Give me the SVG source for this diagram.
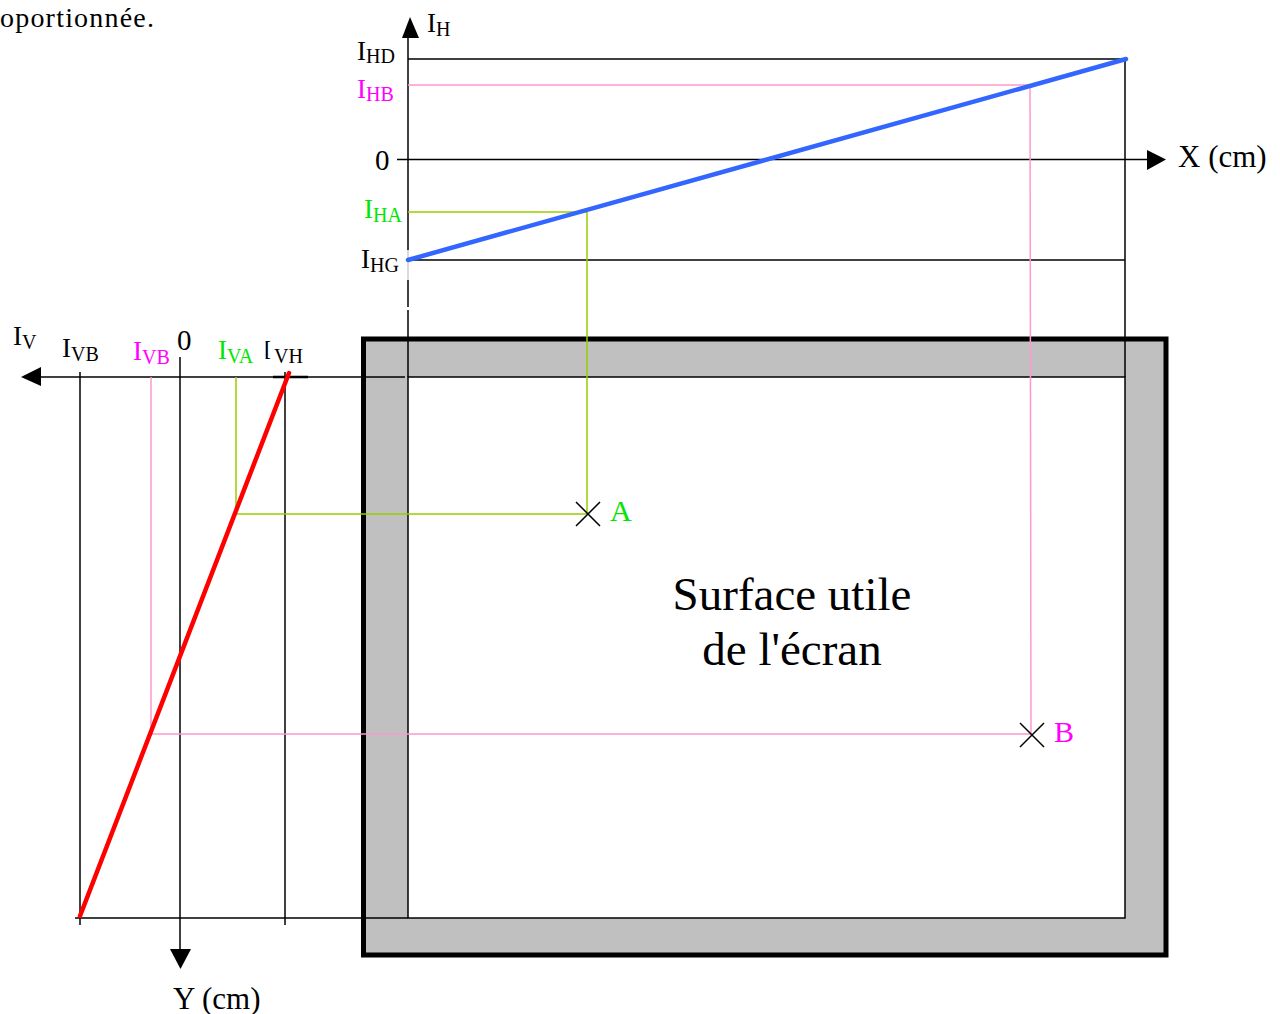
<svg xmlns="http://www.w3.org/2000/svg" width="1280" height="1014" viewBox="0 0 1280 1014">
<style>
text{font-family:"Liberation Serif","Times New Roman",serif;}
.t{font-size:27px;fill:#000}
.s{font-size:20px}
.big{font-size:47px;fill:#000}
.ax{font-size:31px;fill:#000}
.k{stroke:#000;stroke-width:1.5;fill:none}
.pk{stroke:#ff99cc;stroke-width:1.5;fill:none}
.gr{stroke:#99cc00;stroke-width:1.5;fill:none}
.mag{fill:#ff00ff}
.grn{fill:#00e600}
.arr{fill:#000}
</style>
<defs>
<clipPath id="clipI"><rect x="265.6" y="330" width="12" height="40"/></clipPath>
</defs>
<rect width="1280" height="1014" fill="#fff"/>
<text x="0" y="27" style="font-size:28px" textLength="154" fill="#000">oportionnée.</text>

<g id="screen">
<rect x="363.5" y="339" width="802.5" height="616" fill="#c0c0c0" stroke="#000" stroke-width="5"/>
<rect x="408" y="377" width="717" height="541" fill="#fff" stroke="#000" stroke-width="1.5"/>
<text class="big" x="792" y="610" text-anchor="middle">Surface utile</text>
<text class="big" x="792" y="665" text-anchor="middle">de l'écran</text>
</g>

<g id="connectors">
<line class="k" x1="408" y1="36" x2="408" y2="250"/>
<line x1="408" y1="250" x2="408" y2="280" stroke="#ccc" stroke-width="1.5"/>
<line class="k" x1="408" y1="280" x2="408" y2="307"/>
<line class="k" x1="408" y1="310" x2="408" y2="377"/>
<polygon class="arr" points="402,38 419,38 410,17"/>
<line class="k" x1="408" y1="59" x2="1125" y2="59"/>
<line class="k" x1="397" y1="159.5" x2="1150" y2="159.5"/>
<polygon class="arr" points="1147,150 1147,170 1166,159.5"/>
<line class="k" x1="408" y1="260" x2="1125" y2="260"/>
<line class="k" x1="1125" y1="59" x2="1125" y2="377"/>
<line class="pk" x1="408" y1="85" x2="1030" y2="85"/>
<line class="pk" x1="1030" y1="85" x2="1031" y2="734"/>
<line class="gr" x1="408" y1="212" x2="587" y2="212"/>
<line class="gr" x1="587" y1="212" x2="587" y2="514"/>
<line x1="408" y1="260" x2="1126" y2="59" stroke="#3366ff" stroke-width="4.5" stroke-linecap="round"/>
<line class="k" x1="38" y1="377" x2="405" y2="377"/>
<line x1="273" y1="377" x2="308" y2="377" stroke="#000" stroke-width="2.5"/>
<polygon class="arr" points="41,367 41,386 21,377"/>
<line class="k" x1="75" y1="918" x2="408" y2="918"/>
<line class="k" x1="80" y1="372" x2="80" y2="925"/>
<line class="k" x1="285" y1="372" x2="285" y2="925"/>
<line class="k" x1="180" y1="357" x2="180" y2="952"/>
<polygon class="arr" points="170,949 191,949 180.5,969"/>
<line class="pk" x1="151" y1="377" x2="151" y2="734"/>
<line class="pk" x1="151" y1="734" x2="1031" y2="734"/>
<line class="gr" x1="236" y1="377" x2="236" y2="514"/>
<line class="gr" x1="236" y1="514" x2="587" y2="514"/>
<line x1="80" y1="916" x2="289" y2="373" stroke="#ff0000" stroke-width="4.5" stroke-linecap="round"/>
</g>

<g id="pointA">
<path class="k" d="M576,502 L600,526 M576,526 L600,502"/>
<text x="610" y="521" style="font-size:30px" class="grn">A</text>
</g>
<g id="pointB">
<path class="k" d="M1020,723 L1044,747 M1020,747 L1044,723"/>
<text x="1054" y="742" style="font-size:30px" class="mag">B</text>
</g>

<g id="labels-top">
<text class="t" x="427" y="32">I<tspan class="s" dy="4">H</tspan></text>
<text class="t" x="357" y="60">I<tspan class="s" dy="3">HD</tspan></text>
<text class="t mag" x="357" y="98">I<tspan class="s" dy="3">HB</tspan></text>
<text class="t" x="375" y="170" style="font-size:29px">0</text>
<text class="t grn" x="364" y="218">I<tspan class="s" dy="4">HA</tspan></text>
<text class="t" x="361" y="268">I<tspan class="s" dy="4">HG</tspan></text>
<text class="ax" x="1178" y="167">X (cm)</text>
</g>

<g id="labels-left">
<text class="t" x="13" y="345">I<tspan class="s" dy="4">V</tspan></text>
<text class="t" x="62" y="357">I<tspan class="s" dy="4">VB</tspan></text>
<text class="t mag" x="133" y="360">I<tspan class="s" dy="4">VB</tspan></text>
<text class="t" x="177" y="350" style="font-size:29px">0</text>
<text class="t grn" x="218" y="359">I<tspan class="s" dy="4">VA</tspan></text>
<text class="t" x="262" y="359" clip-path="url(#clipI)">I</text>
<text class="s" x="274" y="363" fill="#000">VH</text>
<text class="ax" x="173" y="1009">Y (cm)</text>
</g>
</svg>
